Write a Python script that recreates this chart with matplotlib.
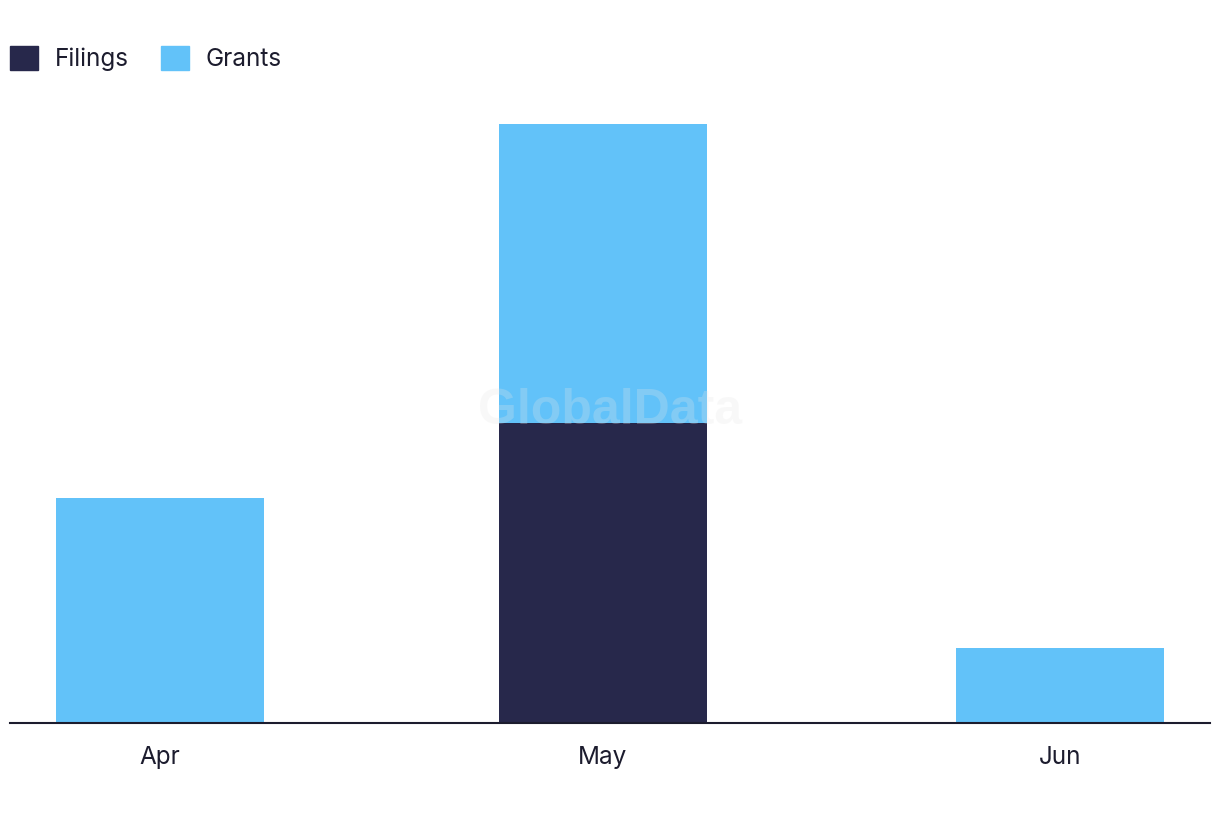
import datetime as dt
import matplotlib.pyplot as plt
import matplotlib.dates as mdates
from matplotlib.patches import Patch

# Data
months = ["Apr", "May", "Jun"]
month_dates = [dt.date(2024, 4, 1), dt.date(2024, 5, 1), dt.date(2024, 6, 1)]
filings = [0, 4, 0]
grants = [3, 4, 1]

c_filings = "#27284b"
c_grants = "#62c2f9"

plt.rcParams["font.family"] = ["Inter", "DejaVu Sans"]

fig = plt.figure(figsize=(12.2, 8.22), dpi=100)
ax = fig.add_axes([10 / 1220, 99 / 822, 1200 / 1220, (723 - 94) / 822])

x = mdates.date2num(month_dates)
width = 14.1
ax.bar(x, filings, width=width, color=c_filings, zorder=2)
ax.bar(x, grants, width=width, bottom=filings, color=c_grants, zorder=2)

ax.set_xlim(x[0] - 10.17, x[-1] + 10.17)
ax.set_ylim(0, 8.4)

ax.set_xticks(x)
ax.set_xticklabels(months, fontsize=17.5, color="#1c1c2e")
ax.tick_params(axis="x", length=0, pad=16.5)
ax.set_yticks([])
for s in ["top", "right", "left"]:
    ax.spines[s].set_visible(False)
ax.spines["bottom"].set_color("#1c1c2e")
ax.spines["bottom"].set_linewidth(1.5)

# watermark
fig.text(610 / 1220, 1 - 411 / 822, "GlobalData", fontsize=36, fontweight="bold",
         color="#e6e6e6", alpha=0.25, ha="center", va="center", zorder=5,
         family="Liberation Sans")

handles = [Patch(color=c_filings, label="Filings"), Patch(color=c_grants, label="Grants")]
fig.legend(handles=handles, loc="upper left", bbox_to_anchor=(10 / 1220, 1 - 46 / 822),
           ncol=2, frameon=False, fontsize=17.5, handlelength=1.15, handleheight=1.15,
           handletextpad=0.7, columnspacing=1.3, borderaxespad=0, borderpad=0,
           labelcolor="#1c1c2e")

fig.savefig("out.png", dpi=100)
